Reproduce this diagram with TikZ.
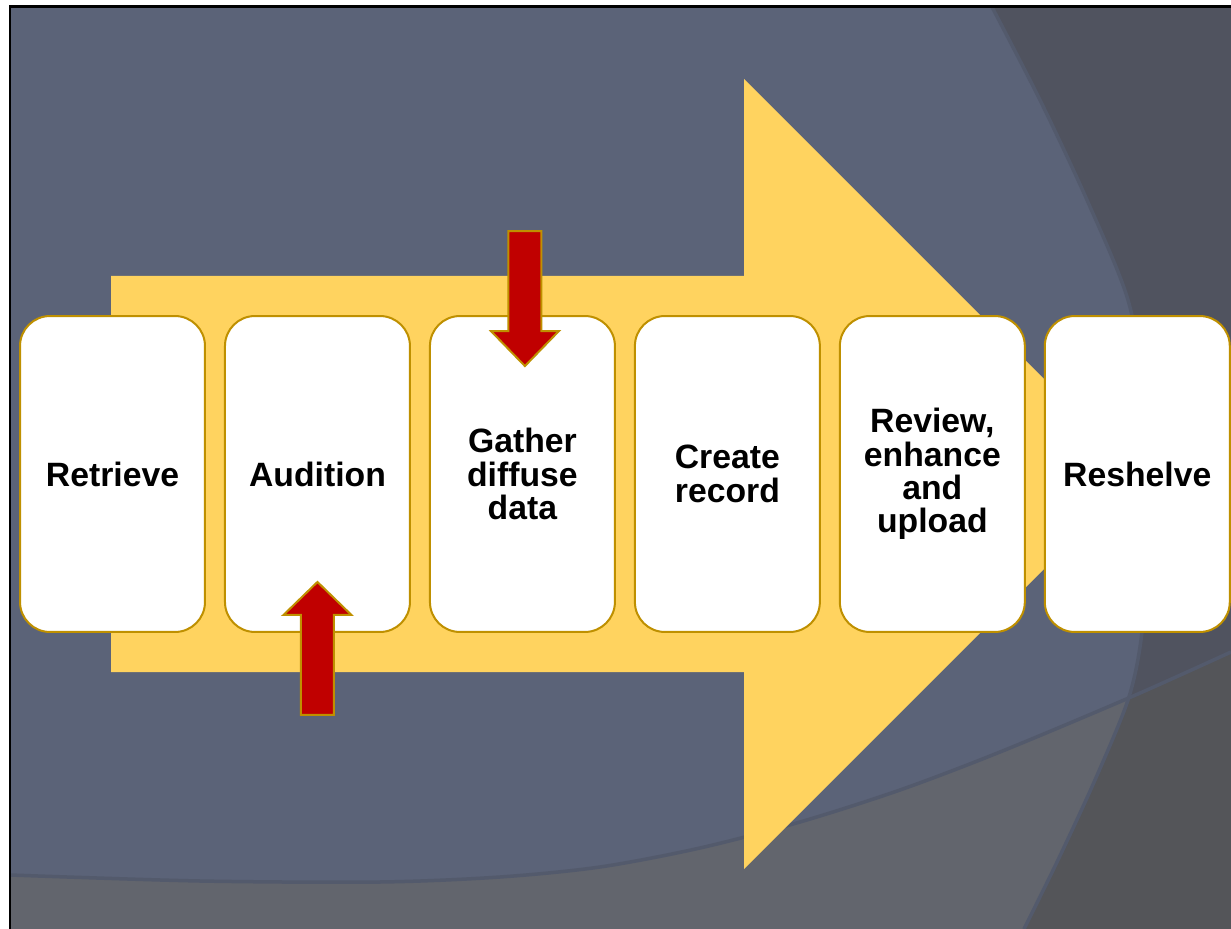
\documentclass[tikz,border=0pt]{standalone}
\usepackage{fontspec}
\setmainfont{Liberation Sans}
\usetikzlibrary{positioning}
\definecolor{slidebg}{HTML}{5B6378}
\definecolor{slidedark}{HTML}{50535F}
\definecolor{slidegrey}{HTML}{62656D}
\definecolor{slidecorner}{HTML}{545559}
\definecolor{slideedge}{HTML}{535A6C}
\definecolor{flowyellow}{HTML}{FFD35F}
\definecolor{flowgold}{HTML}{BF9000}
\definecolor{flowred}{HTML}{C00000}

\begin{document}
\begin{tikzpicture}[
        x=0.02cm, y=-0.02cm,
        font=\fontsize{19.2}{19}\selectfont\bfseries,
        stage/.style={draw=flowgold, fill=white, line width=0.04cm, rounded corners=0.6cm,
                      text width=3.4cm, align=center, minimum width=3.7cm, minimum height=6.32cm},
        push/.style={draw=flowgold, fill=flowred, line width=0.04cm, line join=miter},
        swoosh/.style={draw=slideedge, line width=0.07cm},
      ]
        \useasboundingbox (0,0) rectangle (1231,929);
        \fill[white] (0,0) rectangle (1231,929);
        \fill[slidebg] (10,7) rectangle (1231,929);
        \fill[slidedark] plot[smooth] coordinates {(992,7) (1040,100) (1087,200) (1128,300) (1146,400)
              (1150,480) (1147,560) (1141,640) (1128,700) (1095,780) (1058,860) (1024,929)}
              -- (1231,929) -- (1231,7) -- cycle;
        \fill[slidegrey] plot[smooth] coordinates {(10,875) (200,881) (380,882) (500,877) (600,867)
              (700,848) (800,822) (900,790) (1000,752) (1131,697) (1231,652)}
              -- (1231,929) -- (10,929) -- cycle;
        \begin{scope}
          \clip plot[smooth] coordinates {(992,7) (1040,100) (1087,200) (1128,300) (1146,400)
              (1150,480) (1147,560) (1141,640) (1128,700) (1095,780) (1058,860) (1024,929)}
              -- (1231,929) -- (1231,7) -- cycle;
          \fill[slidecorner] plot[smooth] coordinates {(10,875) (200,881) (380,882) (500,877) (600,867)
              (700,848) (800,822) (900,790) (1000,752) (1131,697) (1231,652)}
              -- (1231,929) -- (10,929) -- cycle;
        \end{scope}
        \draw[swoosh] plot[smooth] coordinates {(992,7) (1040,100) (1087,200) (1128,300) (1146,400)
              (1150,480) (1147,560) (1141,640) (1128,700) (1095,780) (1058,860) (1024,929)};
        \draw[swoosh] plot[smooth] coordinates {(10,875) (200,881) (380,882) (500,877) (600,867)
              (700,848) (800,822) (900,790) (1000,752) (1131,697) (1231,652)};
        \draw[line width=0.06cm] (10,929) -- (10,7) -- (1231,7);

        \fill[flowyellow] (111,276) -- (744,276) -- (744,79) -- (1139,474)
              -- (744,869) -- (744,672) -- (111,672) -- cycle;

        \node[stage] at (112.5,474) (retrieve) {Retrieve};
        \node[stage, right=0.36cm of retrieve] (audition) {Audition};
        \node[stage, right=0.36cm of audition] (gather)   {Gather\\diffuse\\data};
        \node[stage, right=0.36cm of gather]   (create)   {Create\\record};
        \node[stage, right=0.36cm of create]   (review)   {Review,\\enhance\\and\\upload};
        \node[stage, right=0.36cm of review]   (reshelve) {Reshelve};

        \draw[push] (audition.south) ++(-16.5,82) -- ++(0,-100) -- ++(-17.5,0) -- ++(34,-33)
              -- ++(34,33) -- ++(-17.5,0) -- ++(0,100) -- cycle;
        \draw[push] (gather.north) ++(-14,-84) -- ++(0,100) -- ++(-17.5,0) -- ++(34,35)
              -- ++(34,-35) -- ++(-17.5,0) -- ++(0,-100) -- cycle;
      \end{tikzpicture}
\end{document}
